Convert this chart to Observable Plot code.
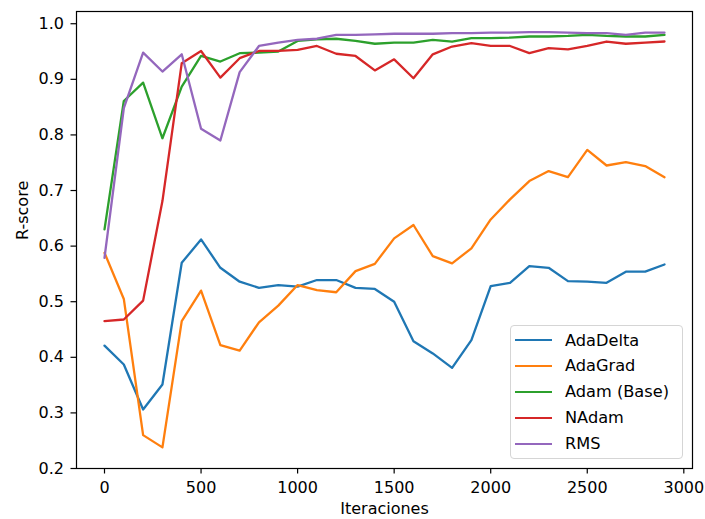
<!DOCTYPE html>
<html><head><meta charset="utf-8">
<script src="https://cdn.jsdelivr.net/npm/d3@7"></script>
<script src="https://cdn.jsdelivr.net/npm/@observablehq/plot@0.6"></script>
<style>
body{margin:0;background:#fff;font-family:"DejaVu Sans",sans-serif;}
#wrap{position:relative;width:705px;height:519px;}
#legend{position:absolute;left:510px;top:325px;width:173px;height:134px;box-sizing:border-box;border:1px solid #d5d5d5;border-radius:4px;background:rgba(255,255,255,0.8);font-family:"DejaVu Sans",sans-serif;font-size:16.2px;color:#000;}
.row{position:absolute;left:0;height:20px;display:flex;align-items:center;white-space:nowrap;}
.sw{width:37px;height:0;border-top:2.3px solid;margin-left:4px;margin-right:13px;}
</style></head><body><div id="wrap"></div>
<script>
const iterations = [0,100,200,300,400,500,600,700,800,900,1000,1100,1200,1300,1400,1500,1600,1700,1800,1900,2000,2100,2200,2300,2400,2500,2600,2700,2800,2900];
const seriesNames = ["AdaDelta","AdaGrad","Adam (Base)","NAdam","RMS"];
const seriesColors = ["#1f77b4","#ff7f0e","#2ca02c","#d62728","#9467bd"];
const adaDelta = [0.421,0.387,0.306,0.351,0.570,0.612,0.561,0.536,0.525,0.530,0.527,0.539,0.539,0.525,0.523,0.500,0.429,0.407,0.381,0.431,0.528,0.534,0.564,0.561,0.537,0.536,0.534,0.554,0.554,0.567];
const adaGrad = [0.588,0.505,0.260,0.238,0.465,0.520,0.422,0.412,0.463,0.493,0.530,0.521,0.517,0.555,0.568,0.614,0.638,0.582,0.569,0.596,0.648,0.684,0.717,0.735,0.724,0.773,0.745,0.751,0.744,0.724];
const adamBase = [0.630,0.861,0.894,0.794,0.887,0.942,0.932,0.947,0.948,0.950,0.969,0.972,0.973,0.969,0.964,0.966,0.966,0.971,0.968,0.974,0.974,0.975,0.977,0.977,0.978,0.980,0.978,0.977,0.977,0.980];
const nAdam = [0.465,0.468,0.502,0.681,0.929,0.951,0.903,0.938,0.951,0.951,0.953,0.960,0.946,0.942,0.916,0.936,0.902,0.945,0.959,0.965,0.960,0.960,0.947,0.956,0.954,0.960,0.968,0.964,0.966,0.968];
const rms = [0.579,0.848,0.948,0.914,0.945,0.811,0.790,0.913,0.960,0.966,0.971,0.973,0.980,0.980,0.981,0.982,0.982,0.982,0.983,0.983,0.984,0.984,0.985,0.985,0.984,0.983,0.983,0.980,0.984,0.984];
const xTicks = [0,500,1000,1500,2000,2500,3000];
const yTicks = [0.2,0.3,0.4,0.5,0.6,0.7,0.8,0.9,1.0];

const allSeries = [adaDelta, adaGrad, adamBase, nAdam, rms];
const data = [];
seriesNames.forEach((name, i) => allSeries[i].forEach((v, j) => data.push({series: name, x: iterations[j], y: v})));

const chart = Plot.plot({
  width: 705, height: 519,
  marginLeft: 76, marginRight: 13, marginTop: 11, marginBottom: 51,
  style: {fontFamily: "DejaVu Sans", fontSize: "16px", background: "#fff", color: "#000"},
  x: {domain: [-145, 3045]},
  y: {domain: [0.2, 1.022]},
  color: {domain: seriesNames, range: seriesColors},
  marks: [
    Plot.line(data, {x: "x", y: "y", z: "series", stroke: "series", strokeWidth: 2.3}),
    Plot.frame({stroke: "#000", strokeWidth: 1.2}),
    Plot.axisX({ticks: xTicks, tickSize: 5.5, tickPadding: 8, tickFormat: d => String(d), label: null, fontSize: 16, strokeWidth: 1.2}),
    Plot.axisY({ticks: yTicks, tickSize: 5.5, tickPadding: 7, tickFormat: d => d.toFixed(1), label: null, fontSize: 16, strokeWidth: 1.2}),
    Plot.text(["Iteraciones"], {frameAnchor: "bottom", dy: 45, text: d => d, fontSize: 16}),
    Plot.text(["R-score"], {frameAnchor: "left", dx: -54, rotate: -90, text: d => d, fontSize: 16})
  ]
});
const wrap = document.getElementById("wrap");
wrap.appendChild(chart);
const legend = document.createElement("div");
legend.id = "legend";
seriesNames.forEach((name, i) => {
  const row = document.createElement("div");
  row.className = "row";
  row.style.top = (4 + i * 25.9) + "px";
  const sw = document.createElement("div");
  sw.className = "sw";
  sw.style.borderTopColor = seriesColors[i];
  const label = document.createElement("span");
  label.textContent = name;
  row.appendChild(sw); row.appendChild(label);
  legend.appendChild(row);
});
wrap.appendChild(legend);
</script></body></html>
